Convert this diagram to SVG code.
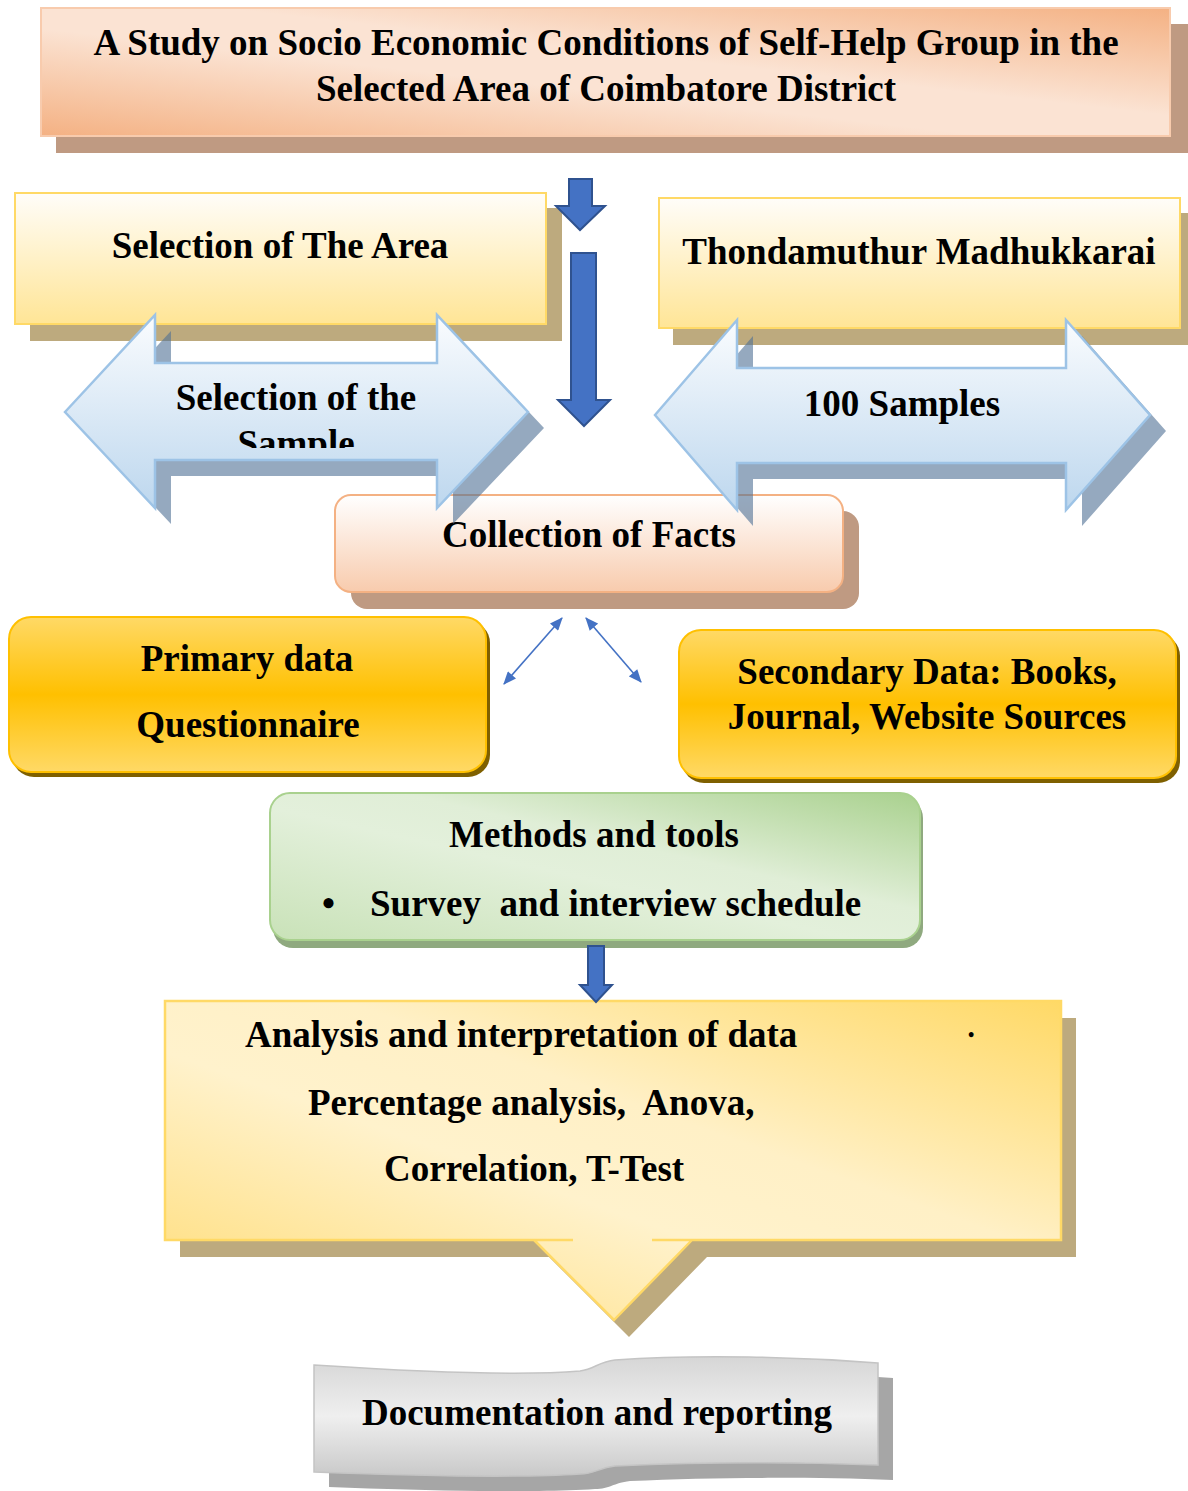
<svg xmlns="http://www.w3.org/2000/svg" width="1188" height="1491" viewBox="0 0 1188 1491">
  <style>
    .t { font-family: "Liberation Serif", "Times New Roman", serif; font-weight: bold; font-size: 37px; fill: #000; }
    .mid { text-anchor: middle; }
    .shKhaki { fill: #BDAA7E; }
    .shRose { fill: #BF9A82; }
    .shArrow { fill: #4F6F95; fill-opacity: 0.6; }
    .blue { fill: #4472C4; stroke: #2F528F; stroke-width: 2; }
    .thin { stroke: #4472C4; stroke-width: 1.6; fill: none; }
  </style>
  <defs>
    <linearGradient id="gTitle" x1="0" y1="1" x2="1" y2="0">
      <stop offset="0" stop-color="#F4B183"/>
      <stop offset="0.42" stop-color="#FBE3D3"/>
      <stop offset="0.58" stop-color="#FBE3D3"/>
      <stop offset="1" stop-color="#F4B183"/>
    </linearGradient>
    <linearGradient id="gYellow" x1="0" y1="0" x2="0" y2="1">
      <stop offset="0" stop-color="#FFFDF9"/>
      <stop offset="1" stop-color="#FFE596"/>
    </linearGradient>
    <linearGradient id="gBlue" x1="0" y1="0" x2="0" y2="1">
      <stop offset="0" stop-color="#FAFCFE"/>
      <stop offset="1" stop-color="#BDD7EE"/>
    </linearGradient>
    <linearGradient id="gPeach" x1="0" y1="0" x2="0" y2="1">
      <stop offset="0" stop-color="#FFFFFF"/>
      <stop offset="1" stop-color="#F8CBAD"/>
    </linearGradient>
    <linearGradient id="gGold" x1="0" y1="0" x2="0" y2="1">
      <stop offset="0" stop-color="#FFD966"/>
      <stop offset="0.5" stop-color="#FFC000"/>
      <stop offset="1" stop-color="#FFD966"/>
    </linearGradient>
    <linearGradient id="gGreen" x1="0" y1="1" x2="1" y2="0">
      <stop offset="0" stop-color="#C9E2B8"/>
      <stop offset="0.45" stop-color="#E3F0DB"/>
      <stop offset="0.6" stop-color="#E0EED7"/>
      <stop offset="1" stop-color="#A9D18E"/>
    </linearGradient>
    <linearGradient id="gAnalysis" x1="0" y1="1" x2="1" y2="0">
      <stop offset="0" stop-color="#FFDB73"/>
      <stop offset="0.42" stop-color="#FFF2CC"/>
      <stop offset="0.6" stop-color="#FFF0C6"/>
      <stop offset="1" stop-color="#FFD966"/>
    </linearGradient>
    <linearGradient id="gGray" x1="0" y1="0" x2="0" y2="1">
      <stop offset="0" stop-color="#D6D6D6"/>
      <stop offset="0.5" stop-color="#EFEFEF"/>
      <stop offset="1" stop-color="#C9C9C9"/>
    </linearGradient>
    <marker id="tip" viewBox="0 0 12 10" refX="11" refY="5" markerWidth="14" markerHeight="11" markerUnits="userSpaceOnUse" orient="auto-start-reverse">
      <path d="M0,0 L12,5 L0,10 Z" fill="#4472C4"/>
    </marker>
    <clipPath id="clipSample">
      <rect x="150" y="360" width="300" height="88"/>
    </clipPath>
  </defs>

  <!-- Title -->
  <g id="title">
    <rect class="shRose" x="56" y="24" width="1132" height="129"/>
    <rect x="41" y="8" width="1129" height="128" fill="url(#gTitle)" stroke="#F8CBAD" stroke-width="2"/>
    <text class="t mid" x="606" y="55">A Study on Socio Economic Conditions of Self-Help Group in the</text>
    <text class="t mid" x="606" y="101">Selected Area of Coimbatore District</text>
  </g>

  <!-- Area selection -->
  <g id="area">
    <rect class="shKhaki" x="30" y="208" width="532" height="133"/>
    <rect x="15" y="193" width="531" height="131" fill="url(#gYellow)" stroke="#FFD966" stroke-width="2"/>
    <text class="t mid" x="280" y="258">Selection of The Area</text>
  </g>

  <g id="place">
    <rect class="shKhaki" x="673" y="213" width="515" height="132"/>
    <rect x="659" y="198" width="521" height="130" fill="url(#gYellow)" stroke="#FFD966" stroke-width="2"/>
    <text class="t mid" x="919" y="264">Thondamuthur Madhukkarai</text>
  </g>

  <!-- Collection of facts -->
  <g id="collection">
    <rect class="shRose" x="351" y="511" width="508" height="98" rx="16"/>
    <rect x="335" y="495" width="508" height="97" rx="16" fill="url(#gPeach)" stroke="#F4B183" stroke-width="2"/>
    <text class="t mid" x="589" y="547">Collection of Facts</text>
  </g>

  <!-- Sample double arrow -->
  <g id="sample">
    <path class="shArrow" transform="translate(16,16)" d="M65,412 L155,315 L155,363 L437,363 L437,315 L528,412 L437,508 L437,460 L155,460 L155,508 Z"/>
    <path d="M65,412 L155,315 L155,363 L437,363 L437,315 L528,412 L437,508 L437,460 L155,460 L155,508 Z" fill="url(#gBlue)" stroke="#9DC3E6" stroke-width="2.5"/>
    <text class="t mid" x="296" y="410">Selection of the</text>
    <text class="t mid" x="296" y="456" clip-path="url(#clipSample)">Sample</text>
  </g>

  <!-- Samples double arrow -->
  <g id="samples">
    <path class="shArrow" transform="translate(16,16)" d="M655,415 L737,320 L737,368 L1066,368 L1066,320 L1150,415 L1066,510 L1066,463 L737,463 L737,510 Z"/>
    <path d="M655,415 L737,320 L737,368 L1066,368 L1066,320 L1150,415 L1066,510 L1066,463 L737,463 L737,510 Z" fill="url(#gBlue)" stroke="#9DC3E6" stroke-width="2.5"/>
    <text class="t mid" x="902" y="416">100 Samples</text>
  </g>

  <!-- Primary data -->
  <g id="primary">
    <rect x="12" y="621" width="478" height="156" rx="22" fill="#7F6000"/>
    <rect x="9" y="617" width="477" height="155" rx="22" fill="url(#gGold)" stroke="#FFC000" stroke-width="2"/>
    <text class="t mid" x="247" y="671">Primary data</text>
    <text class="t mid" x="248" y="737">Questionnaire</text>
  </g>

  <!-- Secondary data -->
  <g id="secondary">
    <rect x="682" y="634" width="498" height="149" rx="22" fill="#7F6000"/>
    <rect x="679" y="630" width="497" height="148" rx="22" fill="url(#gGold)" stroke="#FFC000" stroke-width="2"/>
    <text class="t mid" x="927" y="684">Secondary Data: Books,</text>
    <text class="t mid" x="927" y="729">Journal, Website Sources</text>
  </g>

  <!-- Methods and tools -->
  <g id="methods">
    <rect x="273" y="798" width="650" height="150" rx="20" fill="#8FA97F"/>
    <rect x="270" y="793" width="650" height="147" rx="20" fill="url(#gGreen)" stroke="#A9D18E" stroke-width="2"/>
    <text class="t mid" x="594" y="847">Methods and tools</text>
    <text class="t" x="322" y="916">•</text>
    <text class="t" x="370" y="916" xml:space="preserve">Survey  and interview schedule</text>
  </g>

  <!-- Analysis callout -->
  <g id="analysis">
    <path class="shKhaki" transform="translate(15,17)" d="M165,1001 L1061,1001 L1061,1240 L692,1240 L614,1320 L534,1240 L165,1240 Z"/>
    <path d="M165,1001 L1061,1001 L1061,1240 L692,1240 L614,1320 L534,1240 L165,1240 Z" fill="url(#gAnalysis)"/>
    <path d="M573,1240 L165,1240 L165,1001 L1061,1001 L1061,1240 L652,1240 M534,1240 L614,1320 L692,1240" fill="none" stroke="#FFD966" stroke-width="2.5"/>
    <text class="t" x="245" y="1047">Analysis and interpretation of data</text>
    <text class="t" x="308" y="1115" xml:space="preserve">Percentage analysis,  Anova,</text>
    <text class="t" x="384" y="1181">Correlation, T-Test</text>
    <text class="t" x="968" y="1041" style="font-size:18px">•</text>
  </g>

  <!-- Documentation banner -->
  <g id="documentation">
    <path fill="#A6A6A6" transform="translate(15,15)" d="M314,1365 C420,1372 520,1376 580,1371 C595,1369 598,1362 615,1360 C700,1354 800,1357 878,1363 L878,1465 C800,1462 700,1462 615,1466 C598,1468 595,1474 580,1474 C520,1478 420,1476 314,1472 Z"/>
    <path fill="url(#gGray)" stroke="#C4C4C4" stroke-width="1.5" d="M314,1365 C420,1372 520,1376 580,1371 C595,1369 598,1362 615,1360 C700,1354 800,1357 878,1363 L878,1465 C800,1462 700,1462 615,1466 C598,1468 595,1474 580,1474 C520,1478 420,1476 314,1472 Z"/>
    <text class="t mid" x="597" y="1425">Documentation and reporting</text>
  </g>

  <!-- Connectors -->
  <g id="connectors">
    <path class="blue" d="M569,179 L592,179 L592,206 L605,206 L580,230 L556,206 L569,206 Z"/>
    <path class="blue" d="M571,253 L596,253 L596,400 L610,400 L584,426 L558,400 L571,400 Z"/>
    <line class="thin" x1="504" y1="684" x2="562" y2="618" marker-start="url(#tip)" marker-end="url(#tip)"/>
    <line class="thin" x1="586" y1="618" x2="641" y2="682" marker-start="url(#tip)" marker-end="url(#tip)"/>
    <path class="blue" d="M588,946 L604,946 L604,985 L612,985 L596,1002 L580,985 L588,985 Z"/>
  </g>
</svg>
